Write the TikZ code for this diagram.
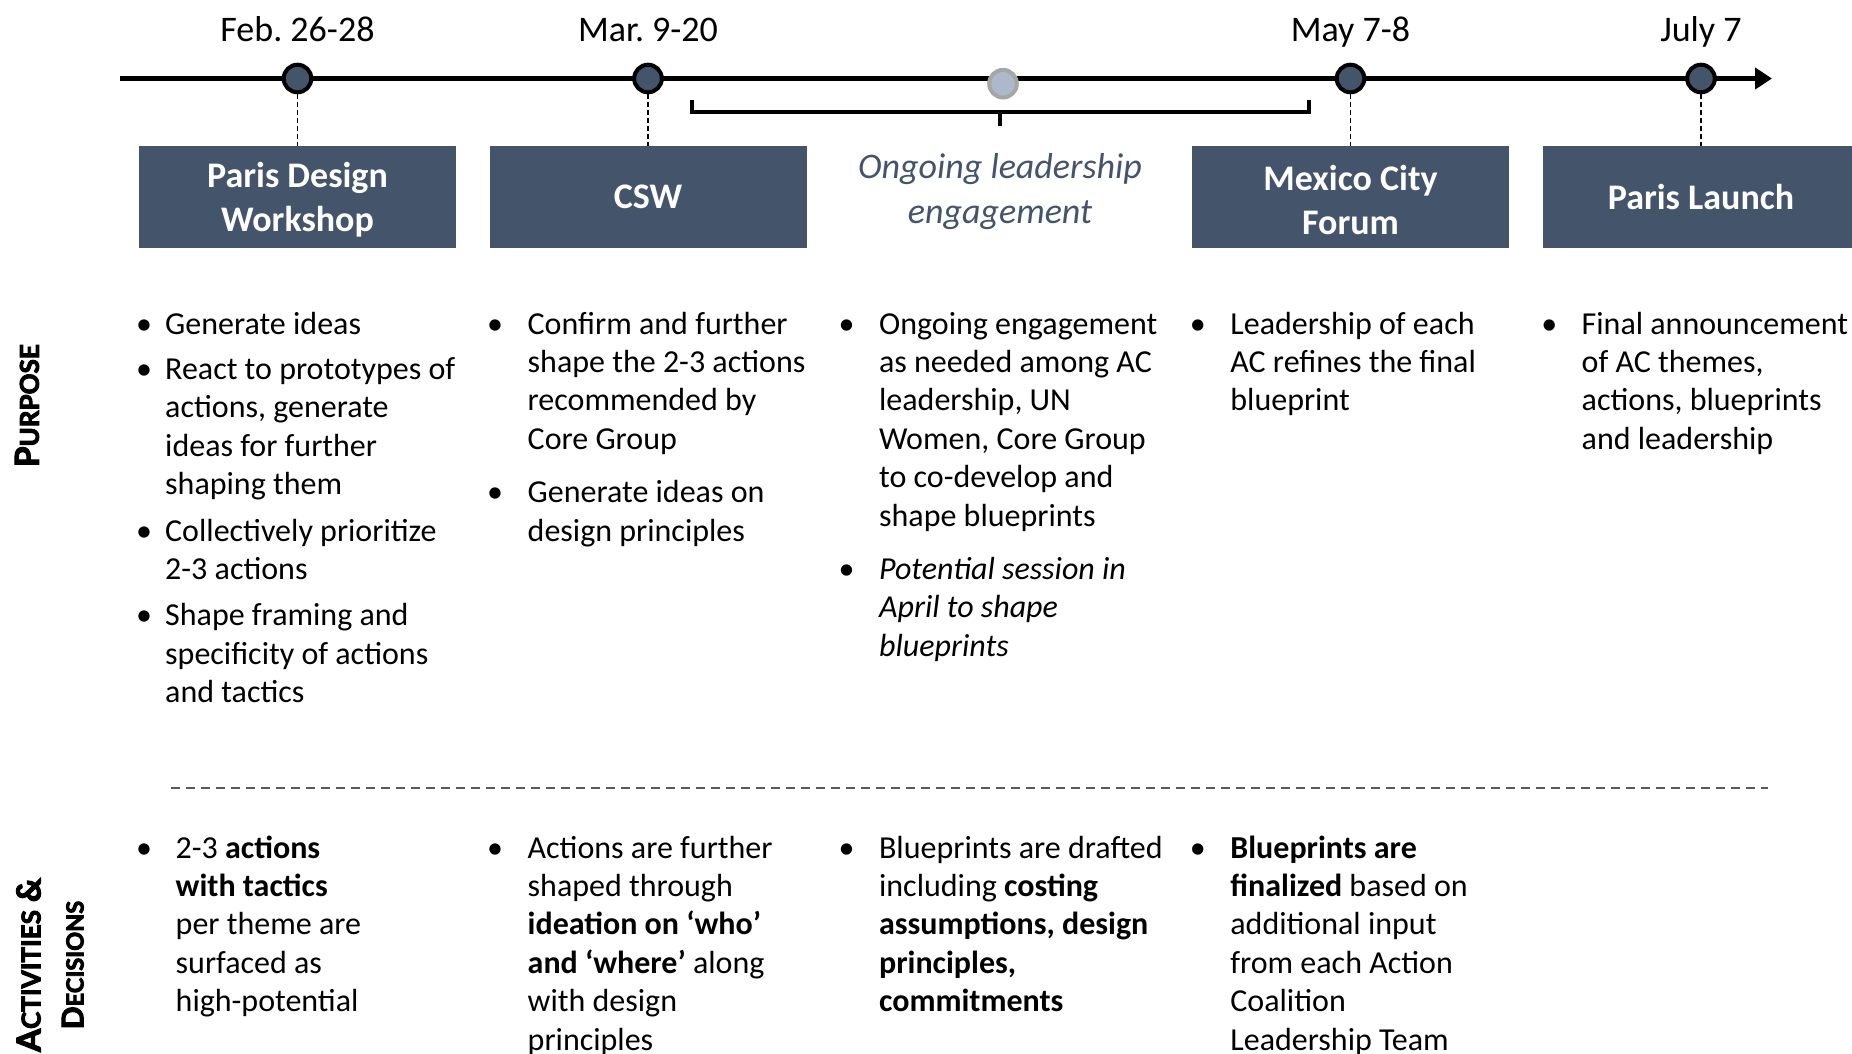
\documentclass[tikz,border=0pt]{standalone}
\usepackage{fontspec}
\setmainfont{Carlito}
\newfontfamily\sidefont[BoldFeatures={FakeBold=3.5}]{Lato}
\usetikzlibrary{arrows.meta,positioning}

\definecolor{slate}{HTML}{44546A}
\definecolor{mist}{HTML}{ADB9CA}
\definecolor{ring}{HTML}{A6A6A6}

\newcommand{\bodysize}{\fontsize{32}{38.4}\selectfont}
\newcommand{\bl}{\makebox[0pt]{\textbullet}}
\newcommand{\capword}[4]{{\fontsize{#1}{43}\selectfont #3}{\fontsize{#2}{43}\selectfont #4}}
\newenvironment{points}[1]{\begin{tabular}{@{}c@{\hspace{#1}}l@{}}}{\end{tabular}}

\begin{document}
\begin{tikzpicture}[x=1pt,y=-1pt,
    dot/.style={circle,draw=black,line width=4pt,fill=slate,minimum size=27.6pt,inner sep=0pt},
    date/.style={anchor=base,font=\fontsize{36}{43}\selectfont},
    event/.style={fill=slate,text=white,minimum width=317pt,minimum height=102pt,inner sep=0pt,
        align=center,font=\fontsize{36}{43.7}\selectfont\bfseries},
    drop/.style={line width=1.2pt,dash pattern=on 5pt off 3pt},
    col/.style={anchor=north west,inner sep=0pt,font=\bodysize},
    side/.style={rotate=90,align=center,inner sep=0pt,font=\sidefont\bfseries\fontsize{33}{43}\selectfont}]
    \useasboundingbox (0,0) rectangle (1852,1053);

    % timeline
    \coordinate (start) at (120,78.5);
    \coordinate (end) at (1772,78.5);
    \draw[line width=5.5pt,-{Triangle[length=17pt,width=21pt]}] (start) -- (end);

    % ongoing engagement marker and bracket
    \node[dot,draw=ring,fill=mist] (m0) at (1003,83.7) {};
    \coordinate (bl) at (691.7,100);
    \coordinate (br) at (1309,100);
    \coordinate (bm) at (1000,111.7);
    \draw[line width=4pt] (bl) |- (bm) -| (br);
    \draw[line width=4pt] (bm) -- ++(0,14.3);
    \node[anchor=north,align=center,inner sep=0pt,text=slate,font=\fontsize{36}{45}\selectfont\itshape]
        (ongoing) at (1000,146.8) {\strut Ongoing leadership\\engagement};

    % milestones with dates and events
    \foreach \n/\x/\d in {1/297.5/Feb.\ 26-28,2/648/Mar.\ 9-20,3/1350.5/May 7-8,4/1701/July 7} {
        \node[dot] (m\n) at (\x,78.5) {};
        \node[date] (d\n) at (\x,41) {\d};
    }
    \node[event] (e1) at (297.5,197) {\strut Paris Design\\Workshop};
    \node[event] (e2) at (648,197) {CSW};
    \node[event] (e3) at (1350.5,197) {\strut Mexico City\\Forum};
    \node[event] (e4) at (1701,197) {Paris Launch};
    \foreach \n in {1,...,4} { \draw[drop] (m\n) -- (e\n); }

    % purpose
    \node[side] (purpose) at (27,405.6) {\capword{33}{26}{P}{URPOSE}};
    \node[col] (p1) at (144,307) {\begin{points}{21pt}
        \bl & Generate ideas\\[7pt]
        \bl & React to prototypes of\\
            & actions, generate\\
            & ideas for further\\
            & shaping them\\[8pt]
        \bl & Collectively prioritize\\
            & 2-3 actions\\[8pt]
        \bl & Shape framing and\\
            & specificity of actions\\
            & and tactics
    \end{points}};
    \node[col] (p2) at (495,307) {\begin{points}{32.5pt}
        \bl & Confirm and further\\
            & shape the 2-3 actions\\
            & recommended by\\
            & Core Group\\[15pt]
        \bl & Generate ideas on\\
            & design principles
    \end{points}};
    \node[col] (p3) at (846.4,307) {\begin{points}{32.5pt}
        \bl & Ongoing engagement\\
            & as needed among AC\\
            & leadership, UN\\
            & Women, Core Group\\
            & to co-develop and\\
            & shape blueprints\\[15pt]
        \bl & \textit{Potential session in}\\
            & \textit{April to shape}\\
            & \textit{blueprints}
    \end{points}};
    \node[col] (p4) at (1197.7,307) {\begin{points}{32.5pt}
        \bl & Leadership of each\\
            & AC refines the final\\
            & blueprint
    \end{points}};
    \node[col] (p5) at (1549,307) {\begin{points}{32.5pt}
        \bl & Final announcement\\
            & of AC themes,\\
            & actions, blueprints\\
            & and leadership
    \end{points}};

    % separator
    \coordinate (s0) at (171,788);
    \coordinate (s1) at (1768,788);
    \draw[line width=1.5pt,black!65,dash pattern=on 9pt off 6pt] (s0) -- (s1);

    % activities and decisions
    \node[side] (activities) at (50,965) {\capword{33}{26}{A}{CTIVITIES} \&\\\capword{30}{23.5}{D}{ECISIONS}};
    \node[col] (a1) at (144,831) {\begin{points}{31.5pt}
        \bl & 2-3 \textbf{actions}\\
            & \textbf{with tactics}\\
            & per theme are\\
            & surfaced as\\
            & high-potential
    \end{points}};
    \node[col] (a2) at (495,831) {\begin{points}{32.5pt}
        \bl & Actions are further\\
            & shaped through\\
            & \textbf{ideation on ‘who’}\\
            & \textbf{and ‘where’} along\\
            & with design\\
            & principles
    \end{points}};
    \node[col] (a3) at (846.4,831) {\begin{points}{32.5pt}
        \bl & Blueprints are drafted\\
            & including \textbf{costing}\\
            & \textbf{assumptions, design}\\
            & \textbf{principles,}\\
            & \textbf{commitments}
    \end{points}};
    \node[col] (a4) at (1197.7,831) {\begin{points}{32.5pt}
        \bl & \textbf{Blueprints are}\\
            & \textbf{finalized} based on\\
            & additional input\\
            & from each Action\\
            & Coalition\\
            & Leadership Team
    \end{points}};
\end{tikzpicture}
\end{document}
